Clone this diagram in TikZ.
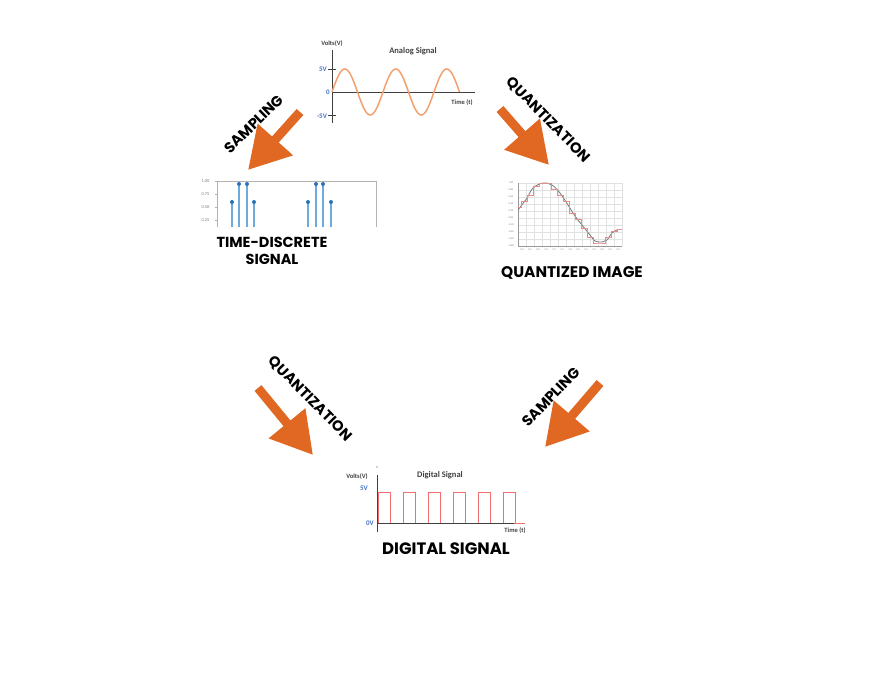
\documentclass[tikz,border=0pt]{standalone}
\usepackage{fontspec}
\setmainfont{Poppins}
\newfontfamily\calfont{Carlito}
\usetikzlibrary{arrows.meta}
\definecolor{arr}{RGB}{224,104,34}
\definecolor{axg}{RGB}{64,64,64}
\definecolor{blab}{RGB}{68,114,196}
\definecolor{sinec}{RGB}{244,160,110}
\definecolor{digred}{RGB}{240,110,110}
\definecolor{stemc}{RGB}{110,170,220}
\definecolor{dotc}{RGB}{40,115,185}
\definecolor{gridc}{RGB}{225,225,225}
\definecolor{qcurve}{RGB}{120,120,120}
\definecolor{qstep}{RGB}{235,140,140}
\begin{document}
\begin{tikzpicture}[x=1pt,y=-1pt,
  biglab/.style={font=\bfseries\fontsize{16.5}{17}\selectfont, text=black, inner sep=0, align=center},
  arlab/.style={font=\bfseries\fontsize{14.7}{16}\selectfont, text=black, inner sep=0},
  bigarrow/.style={draw=arr, line width=9pt, -{Triangle[length=41pt,width=45pt]}},
  tinylab/.style={font=\calfont\bfseries\fontsize{6.5}{7}\selectfont, text=axg, inner sep=0},
  titlelab/.style={font=\calfont\bfseries\fontsize{8.5}{9}\selectfont, text=axg, inner sep=0},
  bluelab/.style={font=\calfont\bfseries\fontsize{7}{8}\selectfont, text=blab, inner sep=0},
  ticklab/.style={font=\calfont\fontsize{4.5}{5}\selectfont, text=gray, inner sep=0},
  qticklab/.style={font=\calfont\fontsize{2.6}{3}\selectfont, text=gray, inner sep=0},
  axisline/.style={draw=axg, line width=0.9pt}
]
\fill[white] (0,0) rectangle (869,680);
\useasboundingbox (0,0) rectangle (869,680);

% ---------- Analog signal ----------
\draw[axisline] (332,50) -- (332,123);
\draw[axisline] (332,92) -- (475,92);
\draw[axisline] (328,69) -- (336,69);
\draw[axisline] (328,115) -- (336,115);
\draw[sinec, line width=1.5pt] plot[domain=0:127.5, samples=150, smooth] ({332+\x},{92-23*sin(\x*7.0588)});
\node[tinylab] (avolts) at (332,44) {Volts(V)};
\node[titlelab] (atitle) at (413,51) {Analog Signal};
\node[bluelab] (a5v) at (323,69) {5V};
\node[bluelab] (a0) at (328,92) {0};
\node[bluelab] (am5v) at (322,116) {-5V};
\node[tinylab] (atime) at (462,103) {Time (t)};

% ---------- Time-discrete signal ----------
\draw[gray!60, line width=0.6pt] (217,227) -- (217,181) -- (376,181) -- (376,227);
\foreach \yy/\tl [count=\i] in {181/1.00,194/0.75,207/0.50,220/0.25}{
  \draw[gray!60, line width=0.5pt] (215,\yy) -- (217,\yy);
  \node[ticklab] (td\i) at (205.5,\yy) {\tl};
}
\foreach \xx/\yy in {232/202,239/184,247/184,254/202,308/202,316/184,323/184,331/202}{
  \draw[stemc, line width=1.2pt] (\xx,227) -- (\xx,\yy);
  \fill[dotc] (\xx,\yy) circle (2);
}
\node[biglab, font=\bfseries\fontsize{14.5}{17}\selectfont] (tdlabel) at (272,251) {TIME-DISCRETE\\SIGNAL};

% ---------- Quantized image ----------
\foreach \xx in {518,526,...,622} \draw[gridc, line width=0.5pt] (\xx,183) -- (\xx,246);
\foreach \yy in {183,190,...,246} \draw[gridc, line width=0.5pt] (518,\yy) -- (622,\yy);
\draw[gray!80, line width=0.6pt] (518,183) -- (518,246) -- (622,246);
\foreach \yy/\tl [count=\i] in {183/1.00,190/0.80,197/0.60,204/0.40,211/0.20,218/0.00,225/-0.20,232/-0.40,239/-0.60,246/-0.80}{
  \node[qticklab] (qy\i) at (511,\yy) {\tl};
}
\foreach \xx/\tl [count=\i] in {522/0.3,530/0.5,538/0.8,546/1.0,554/1.3,562/1.5,570/1.8,578/2.0,586/2.3,594/2.5,602/2.8,610/3.0,618/3.3}{
  \node[qticklab] (qx\i) at (\xx,250) {\tl};
}
\draw[qcurve, line width=0.8pt] plot[smooth, tension=0.6] coordinates {(518,210) (527,198) (533,188) (543,183) (552,185) (560,193) (568,205) (575,216) (582,225) (590,235) (595,241) (602,242) (607,240) (612,233) (617,230)};
\draw[qstep, line width=0.9pt] (518,207) -| (521,201) -| (527,195) -| (533,186) -| (539,183) -| (545,183) -| (551,189)
  -| (557,195) -| (563,201) -| (569,213) -| (575,219) -| (581,228) -| (587,237) -| (593,243) -| (599,243)
  -| (605,237) -| (611,231) -| (617,229) -- (622,229);
\node[biglab, font=\bfseries\fontsize{15.4}{17}\selectfont] (qlabel) at (572,273) {QUANTIZED IMAGE};

% ---------- Digital signal ----------
\fill[axg] (377,467) circle (0.6);
\draw[digred, line width=1pt] (377,523) -- (525,523);
\foreach \s in {378,403,428,453,478,503}{
  \draw[digred, line width=1pt] (\s,523) -- (\s,492) -- (\s+12,492) -- (\s+12,523);
}
\draw[axisline] (377,475) -- (377,532);
\draw[axisline] (377,523) -- (514,523);
\node[tinylab] (dvolts) at (357,477) {Volts(V)};
\node[titlelab] (dtitle) at (440,475) {Digital Signal};
\node[bluelab] (d5v) at (364,488) {5V};
\node[bluelab] (d0v) at (370,523) {0V};
\node[tinylab] (dtime) at (515,531) {Time (t)};
\node[biglab] (dlabel) at (446,549) {DIGITAL SIGNAL};

% ---------- Arrows ----------
\coordinate (a1s) at (300,112); \coordinate (a1t) at (248,170);
\coordinate (a2s) at (500,109); \coordinate (a2t) at (549,165);
\coordinate (a3s) at (258,388); \coordinate (a3t) at (313,455);
\coordinate (a4s) at (600,383); \coordinate (a4t) at (545,447);
\draw[bigarrow] (a1s) -- (a1t);
\draw[bigarrow] (a2s) -- (a2t);
\draw[bigarrow] (a3s) -- (a3t);
\draw[bigarrow] (a4s) -- (a4t);
\node[arlab, rotate=44] (l1) at (254,124) {SAMPLING};
\node[arlab, rotate=-46] (l2) at (548,120) {QUANTIZATION};
\node[arlab, rotate=-45.7] (l3) at (310,399) {QUANTIZATION};
\node[arlab, rotate=46] (l4) at (551,397) {SAMPLING};
\end{tikzpicture}
\end{document}
